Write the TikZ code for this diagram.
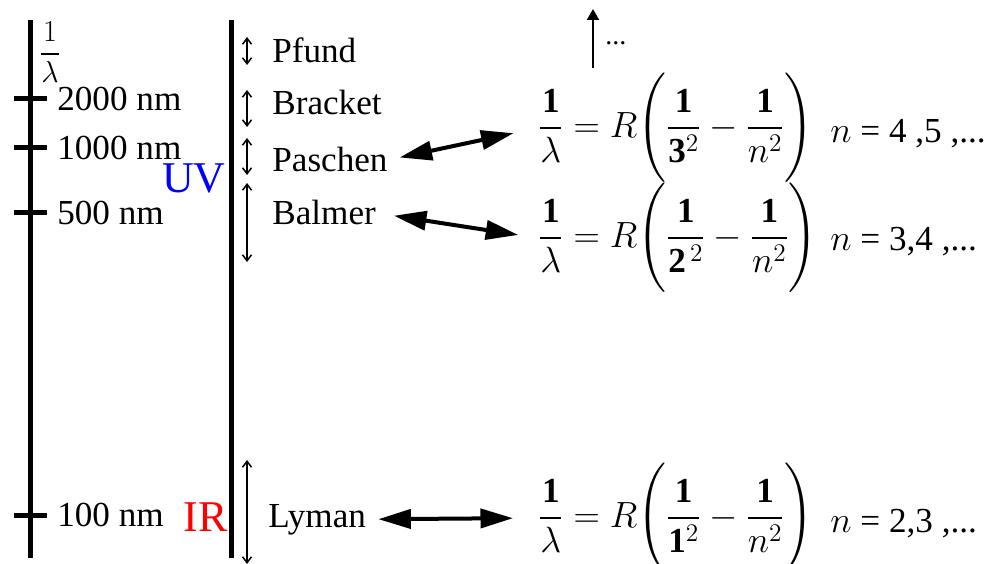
\documentclass[tikz,border=0pt]{standalone}
\usepackage{amsmath}
\usepackage{fontspec}
\setmainfont{Liberation Serif}
\usepackage{tikz}
\usetikzlibrary{arrows.meta}

\begin{document}
\begin{tikzpicture}[x=0.2mm, y=-0.2mm,
            axis/.style={line width=1mm},
            band/.style={line width=0.3mm, {Straight Barb[length=1.2mm,width=1.8mm]}-{Straight Barb[length=1.2mm,width=1.8mm]}},
            link/.style={line width=0.8mm, {Triangle[length=6.5mm,width=3.8mm]}-{Triangle[length=6.5mm,width=3.8mm]}},
            axlabel/.style={anchor=west, inner sep=0pt, font=\fontsize{20}{24}\selectfont},
            series/.style={anchor=base west, inner sep=0pt, font=\fontsize{20}{24}\selectfont},
            fml/.style={anchor=west, inner sep=0pt, font=\fontsize{20}{24}\selectfont},
            nval/.style={anchor=base west, inner sep=0pt, font=\fontsize{20}{24}\selectfont},
            region/.style={anchor=east, inner sep=0pt, font=\fontsize{25}{30}\selectfont},
          ]
          \useasboundingbox (0,0) rectangle (986,564);

          % --- wavelength scale ---
          \draw[axis] (30,20) -- (30,558);
          \node[inner sep=0pt, font=\fontsize{16}{19}\selectfont] (invlam) at (50,52) {$\dfrac{1}{\lambda}$};
          \foreach \y/\t/\n in {99/2000/wl2000, 148/1000/wl1000, 213/500/wl500, 515/100/wl100} {
            \draw[axis] (14,\y) -- (47,\y);
            \node[axlabel] (\n) at (57,\y) {\t{} nm};
          }
          \node[region, text=blue] (uv) at (226,178) {UV};
          \node[region, text=red] (ir) at (228,517) {IR};

          % --- series column ---
          \draw[axis] (231,20) -- (231,558);
          \foreach \a/\b in {37/65, 90/127, 138/175, 183/262, 460/564} {
            \draw[band] (247,\a) -- (247,\b);
          }
          \node[series] (pfund) at (272,63) {Pfund};
          \node[series] (brackett) at (272,115) {Bracket};
          \node[series] (paschen) at (272,172) {Paschen};
          \node[series] (balmer) at (272,225) {Balmer};
          \node[series] (lyman) at (268,527) {Lyman};

          % --- higher series ---
          \coordinate (upbase) at (593,68);
          \coordinate (uptop) at (593,9);
          \draw[line width=0.45mm, -{Triangle[length=2.2mm,width=2.4mm]}] (upbase) -- (uptop);
          \node[anchor=base west, inner sep=0pt, font=\fontsize{16}{19}\selectfont] (more) at (605,45) {...};

          % --- Rydberg formulas ---
          \node[fml] (fpaschen) at (538,128) {$\dfrac{\mathbf{1}}{\lambda} = R\Biggl(\dfrac{\mathbf{1}}{\mathbf{3}^{2}} - \dfrac{\mathbf{1}}{n^{2}}\Biggr)$};
          \node[fml] (fbalmer) at (538,238) {$\dfrac{\mathbf{1}}{\lambda} = R\Biggl(\dfrac{\mathbf{1}}{\mathbf{2}^{\,2}} - \dfrac{\mathbf{1}}{n^{2}}\Biggr)$};
          \node[fml] (flyman) at (538,518) {$\dfrac{\mathbf{1}}{\lambda} = R\Biggl(\dfrac{\mathbf{1}}{\mathbf{1}^{2}} - \dfrac{\mathbf{1}}{n^{2}}\Biggr)$};
          \node[nval] (npaschen) at (830,143) {$n$ = 4 ,5 ,...};
          \node[nval] (nbalmer) at (830,251) {$n$ = 3,4 ,...};
          \node[nval] (nlyman) at (830,532) {$n$ = 2,3 ,...};

          \draw[link, shorten <=2.4mm, shorten >=5mm] (paschen.east) -- (fpaschen.west);
          \draw[link, shorten <=3.6mm, shorten >=4mm] (balmer.east) -- (fbalmer.west);
          \draw[link, shorten <=2.4mm, shorten >=5mm] (lyman.east) -- (flyman.west);
        \end{tikzpicture}
\end{document}
